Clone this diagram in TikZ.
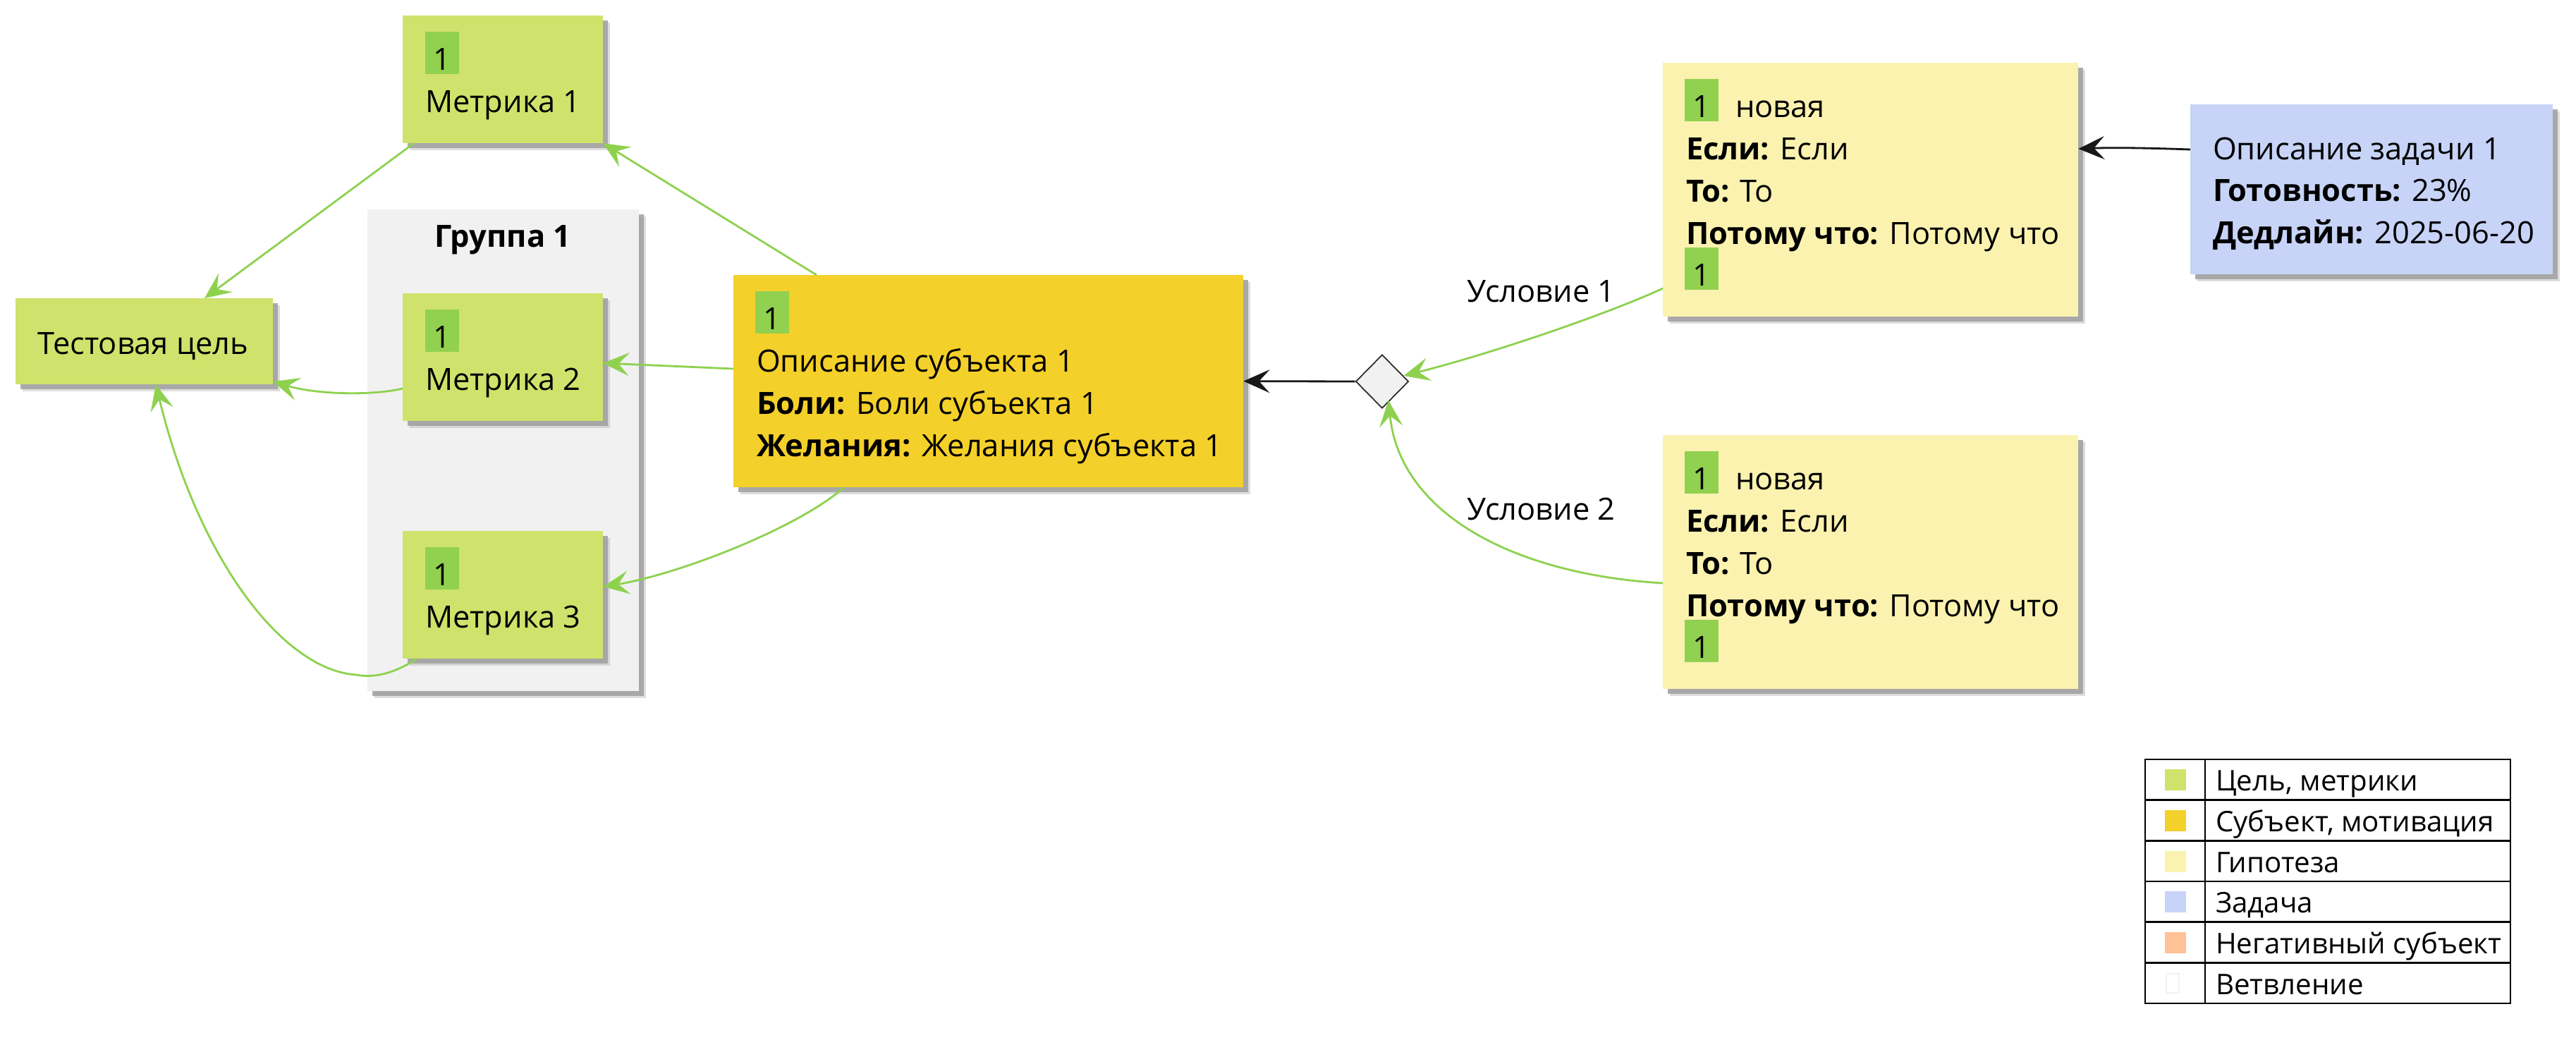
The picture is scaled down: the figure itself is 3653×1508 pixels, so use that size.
\documentclass[tikz,border=0pt]{standalone}
\usepackage{fontspec}
\setmainfont{Open Sans}
\usetikzlibrary{arrows.meta,shapes.geometric,shadows,calc}

\definecolor{goalfill}{HTML}{CFE26B}
\definecolor{badgegreen}{HTML}{92D050}
\definecolor{linkgreen}{HTML}{8ED14F}
\definecolor{subjfill}{HTML}{F4D02A}
\definecolor{hypfill}{HTML}{FBF2AF}
\definecolor{taskfill}{HTML}{C7D4F7}
\definecolor{negfill}{HTML}{FFC196}
\definecolor{groupfill}{HTML}{F1F1F1}
\definecolor{diafill}{HTML}{F1F1F1}
\definecolor{diaborder}{HTML}{2B2B2B}
\definecolor{shadowgray}{HTML}{9E9E9E}
\definecolor{darkline}{HTML}{181818}

\tikzset{
  every node/.style={font=\fontsize{12.35pt}{14pt}\selectfont},
  shadowed/.style={
    drop shadow={shadow xshift=0.1cm, shadow yshift=-0.1cm, fill=shadowgray, opacity=0.35},
    drop shadow={shadow xshift=0.07cm, shadow yshift=-0.07cm, fill=shadowgray, opacity=0.85}},
  box/.style={anchor=north west, inner sep=0pt, outer sep=0pt, shadowed},
  badge/.style={anchor=north west, fill=badgegreen, inner sep=0pt, outer sep=0pt,
    minimum width=0.48cm, minimum height=0.6cm, text height=0.54cm, text depth=0.06cm},
  txt/.style={anchor=base west, inner sep=0pt, outer sep=0pt},
  legendtxt/.style={txt, font=\fontsize{11.45pt}{13pt}\selectfont},
  greenlink/.style={draw=linkgreen, line width=0.8pt,
    -{Stealth[length=0.37cm, width=0.33cm, inset=0.15cm]}},
  darklink/.style={draw=darkline, line width=0.8pt,
    -{Stealth[length=0.37cm, width=0.33cm, inset=0.15cm]}},
}

\begin{document}
\begin{tikzpicture}[x=0.01cm, y=-0.01cm]
\useasboundingbox (0,0) rectangle (3653,1508);

% group frame
\node[box, fill=groupfill, minimum width=3.85cm, minimum height=6.83cm] (grp) at (521,297) {};
\node[anchor=base, inner sep=0pt] (grptitle) at (713,350) {\textbf{Группа 1}};

% goal
\node[box, fill=goalfill, minimum width=3.65cm, minimum height=1.22cm] (goal) at (22,423) {};
\node[txt] (goaltxt) at (54,502) {Тестовая цель};

% metrics
\node[box, fill=goalfill, minimum width=2.84cm, minimum height=1.81cm] (m1) at (571,22) {};
\node[badge] (m1b) at (603,45) {1};
\node[txt] (m1t) at (603,159) {Метрика 1};

\node[box, fill=goalfill, minimum width=2.84cm, minimum height=1.81cm] (m2) at (571,416) {};
\node[badge] (m2b) at (603,439) {1};
\node[txt] (m2t) at (603,553) {Метрика 2};

\node[box, fill=goalfill, minimum width=2.84cm, minimum height=1.81cm] (m3) at (571,753) {};
\node[badge] (m3b) at (603,776) {1};
\node[txt] (m3t) at (603,890) {Метрика 3};

% subject
\node[box, fill=subjfill, minimum width=7.23cm, minimum height=3.01cm] (subj) at (1040,390) {};
\node[badge] (sb) at (1071,413) {1};
\node[txt] (s1) at (1073,527) {Описание субъекта 1};
\node[txt] (s2) at (1073,587) {\textbf{Боли:} Боли субъекта 1};
\node[txt] (s3) at (1073,647) {\textbf{Желания:} Желания субъекта 1};

% branching
\node[diamond, draw=diaborder, fill=diafill, line width=0.5pt, inner sep=0pt,
      minimum width=0.75cm, minimum height=0.76cm] (dia) at (1960,541) {};

% hypotheses
\node[box, fill=hypfill, minimum width=5.89cm, minimum height=3.60cm] (h1) at (2358,89) {};
\node[badge] (h1b) at (2389,112) {1};
\node[txt] (h1n) at (2461,166) {новая};
\node[txt] (h1a) at (2391,226) {\textbf{Если:} Если};
\node[txt] (h1c) at (2391,286) {\textbf{То:} То};
\node[txt] (h1d) at (2391,346) {\textbf{Потому что:} Потому что};
\node[badge] (h1e) at (2389,351) {1};

\node[box, fill=hypfill, minimum width=5.89cm, minimum height=3.60cm] (h2) at (2358,617) {};
\node[badge] (h2b) at (2389,640) {1};
\node[txt] (h2n) at (2461,694) {новая};
\node[txt] (h2a) at (2391,754) {\textbf{Если:} Если};
\node[txt] (h2c) at (2391,814) {\textbf{То:} То};
\node[txt] (h2d) at (2391,874) {\textbf{Потому что:} Потому что};
\node[badge] (h2e) at (2389,879) {1};

% task
\node[box, fill=taskfill, minimum width=5.14cm, minimum height=2.41cm] (task) at (3106,148) {};
\node[txt] (t1) at (3138,226) {Описание задачи 1};
\node[txt] (t2) at (3138,285) {\textbf{Готовность:} 23\%};
\node[txt] (t3) at (3138,345) {\textbf{Дедлайн:} 2025-06-20};

% connectors
\draw[greenlink] ($(m1.south west)+(16,0)$) -- ($(goal.north west)+(268,0)$);
\draw[greenlink] ($(subj.north west)+(118,0)$) -- (m1.south east);
\draw[greenlink] ($(subj.north west)+(0,133)$) -- ($(m2.north east)+(0,99)$);
\draw[greenlink] ($(subj.south west)+(157,0)$) .. controls (1130,750) and (960,815) .. ($(m3.north east)+(0,79)$);
\draw[greenlink] ($(m2.north west)+(0,135)$) .. controls (530,561) and (450,560) .. ($(goal.south east)+(0,-4)$);
\draw[greenlink] ($(m3.south west)+(20,0)$) .. controls (560,955) and (530,962) .. (505,957)
  .. controls (400,950) and (280,790) .. ($(goal.south west)+(199,0)$);
\draw[darklink] (dia.west) -- (subj.east);
\draw[greenlink] ($(h1.north west)+(0,320)$) .. controls (2280,445) and (2120,500) .. ($(dia.east)+(-8,-8)$);
\draw[greenlink] ($(h2.north west)+(0,210)$) .. controls (2150,815) and (1985,730) .. ($(dia.south)+(9,-12)$);
\draw[darklink] ($(task.north west)+(0,64)$) .. controls (3050,210) and (3000,209) .. ($(h1.north east)+(0,122)$);

\node[txt] (cond1) at (2080,428) {Условие 1};
\node[txt] (cond2) at (2080,737) {Условие 2};

% legend: six rows of 57.7 units starting at 1077
\fill[goalfill]  (3070,1091) rectangle (3100,1121);
\fill[subjfill]  (3070,1149) rectangle (3100,1179);
\fill[hypfill]   (3070,1207) rectangle (3100,1237);
\fill[taskfill]  (3070,1264) rectangle (3100,1294);
\fill[negfill]   (3070,1322) rectangle (3100,1352);
\draw[draw=groupfill, fill=white, line width=0.6pt] (3072,1381) rectangle (3090,1408);
\draw[line width=0.75pt] (3042,1077) rectangle (3560,1423);
\draw[line width=0.75pt] (3127,1077) -- (3127,1423);
\foreach \yy in {1134.7,1192.3,1250,1307.7,1365.3}
  \draw[line width=0.75pt] (3042,\yy) -- (3560,\yy);
\node[legendtxt] (l1) at (3142,1121) {Цель, метрики};
\node[legendtxt] (l2) at (3142,1179) {Субъект, мотивация};
\node[legendtxt] (l3) at (3142,1237) {Гипотеза};
\node[legendtxt] (l4) at (3142,1294) {Задача};
\node[legendtxt] (l5) at (3142,1352) {Негативный субъект};
\node[legendtxt] (l6) at (3142,1410) {Ветвление};
\end{tikzpicture}
\end{document}
